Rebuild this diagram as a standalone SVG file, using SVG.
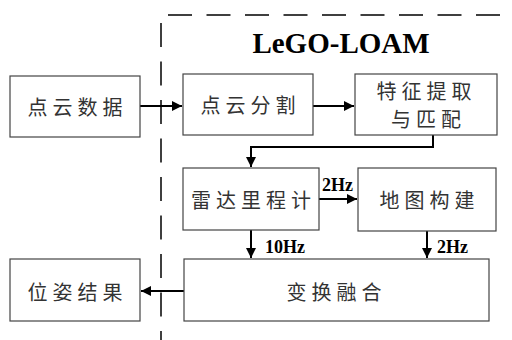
<svg xmlns="http://www.w3.org/2000/svg" width="512" height="340" viewBox="0 0 512 340">
<style>
.box{fill:#fff;stroke:#444;stroke-width:1.2}
.t{font-family:"Noto Sans CJK SC","Noto Sans",sans-serif;font-size:20px;fill:#333;text-anchor:middle;letter-spacing:5px;dominant-baseline:central}
.hz{font-family:"Liberation Serif",serif;font-weight:bold;font-size:18px;fill:#000}
.c{fill:none;stroke:#000;stroke-width:2}
.dash{fill:none;stroke:#000;stroke-width:1.5;stroke-dasharray:24 14.5}
</style>
<defs>
<marker id="ah" markerUnits="userSpaceOnUse" markerWidth="10" markerHeight="10" refX="10" refY="5" orient="auto">
<path d="M0,0 L10,5 L0,10 z" fill="#000"/>
</marker>
</defs>
<g id="boundary">
<path class="dash" d="M168,15 H512"/>
<path class="dash" d="M161,23 V340"/>
<text x="341" y="53" font-family="Liberation Serif,serif" font-weight="bold" font-size="29" text-anchor="middle" fill="#000">LeGO-LOAM</text>
</g>
<g id="connectors">
<path class="c" d="M140,106 H182" marker-end="url(#ah)"/>
<path class="c" d="M313,106 H354" marker-end="url(#ah)"/>
<path class="c" d="M433,135 V147 H251 V167" marker-end="url(#ah)"/>
<path class="c" d="M319,199 H357" marker-end="url(#ah)"/>
<path class="c" d="M251,230 V258" marker-end="url(#ah)"/>
<path class="c" d="M427,231 V258" marker-end="url(#ah)"/>
<path class="c" d="M184,291 H141" marker-end="url(#ah)"/>
<text class="hz" x="322" y="191">2Hz</text>
<text class="hz" x="265" y="253">10Hz</text>
<text class="hz" x="437" y="253">2Hz</text>
</g>
<g id="n1"><rect class="box" x="10" y="76" width="130" height="61"/><text class="t" x="77.5" y="106">点云数据</text></g>
<g id="n2"><rect class="box" x="183" y="74" width="130" height="61"/><text class="t" x="250.5" y="104">点云分割</text></g>
<g id="n3"><rect class="box" x="355" y="74" width="142" height="61"/><text class="t" x="426.5" y="90">特征提取</text><text class="t" x="428.5" y="118">与匹配</text></g>
<g id="n4"><rect class="box" x="183" y="168" width="136" height="62"/><text class="t" x="253.5" y="199">雷达里程计</text></g>
<g id="n5"><rect class="box" x="358" y="168" width="138" height="63"/><text class="t" x="429.5" y="199">地图构建</text></g>
<g id="n6"><rect class="box" x="184" y="259" width="305" height="62"/><text class="t" x="336.5" y="291">变换融合</text></g>
<g id="n7"><rect class="box" x="10" y="259" width="130" height="62"/><text class="t" x="77.5" y="291">位姿结果</text></g>
</svg>
